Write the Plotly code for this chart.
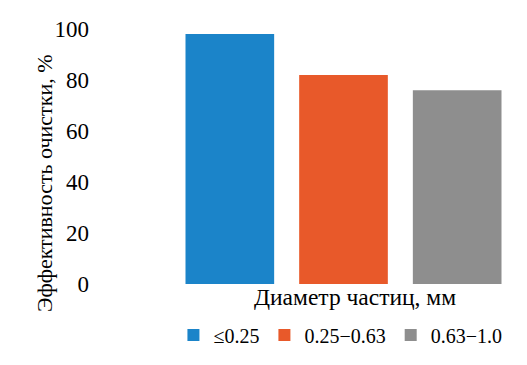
import plotly.graph_objects as go

categories = ["≤0.25", "0.25−0.63", "0.63−1.0"]
values = [98, 82, 76]
colors = ["#1b84c9", "#e8592a", "#8e8e8e"]

y_title = "Эффективность очистки, %"
x_title = "Диаметр частиц, мм"
y_ticks = [0, 20, 40, 60, 80, 100]

FONT = "serif"

fig = go.Figure()
for c, v, col in zip(categories, values, colors):
    fig.add_trace(go.Bar(x=[c], y=[v], name=c, marker=dict(color=col, line=dict(width=0))))

fig.update_layout(
    width=527, height=365,
    margin=dict(l=173, r=13, t=29, b=81, autoexpand=False),
    paper_bgcolor="white", plot_bgcolor="white",
    barmode="overlay", bargap=0.22,
    font=dict(family=FONT, size=20, color="black"),
    showlegend=True,
    legend=dict(orientation="h", x=0.491, xanchor="center", y=-0.2, yanchor="middle",
                font=dict(family=FONT, size=20, color="black"), itemwidth=30,
                traceorder="normal"),
    xaxis=dict(categoryorder="array", categoryarray=categories, showticklabels=False,
               showline=False, showgrid=False, zeroline=False, fixedrange=True),
    yaxis=dict(range=[0, 100], tickvals=y_ticks, showgrid=False, zeroline=False,
               showline=False, ticks="", ticklabelstandoff=83, automargin=False,
               tickfont=dict(family=FONT, size=23, color="black"), fixedrange=True),
    annotations=[
        dict(text=y_title, textangle=-90, xref="paper", yref="paper",
             x=(44 - 173) / 341, y=(284 - 183) / 255, xanchor="center", yanchor="middle",
             showarrow=False, font=dict(family=FONT, size=22, color="black")),
        dict(text=x_title, xref="paper", yref="paper",
             x=(355 - 173) / 341, y=(284 - 297) / 255, xanchor="center", yanchor="middle",
             showarrow=False, font=dict(family=FONT, size=23.5, color="black")),
    ],
)

fig.write_html("out.html", config={"displayModeBar": False},
               post_script="document.body.style.margin='0';")
